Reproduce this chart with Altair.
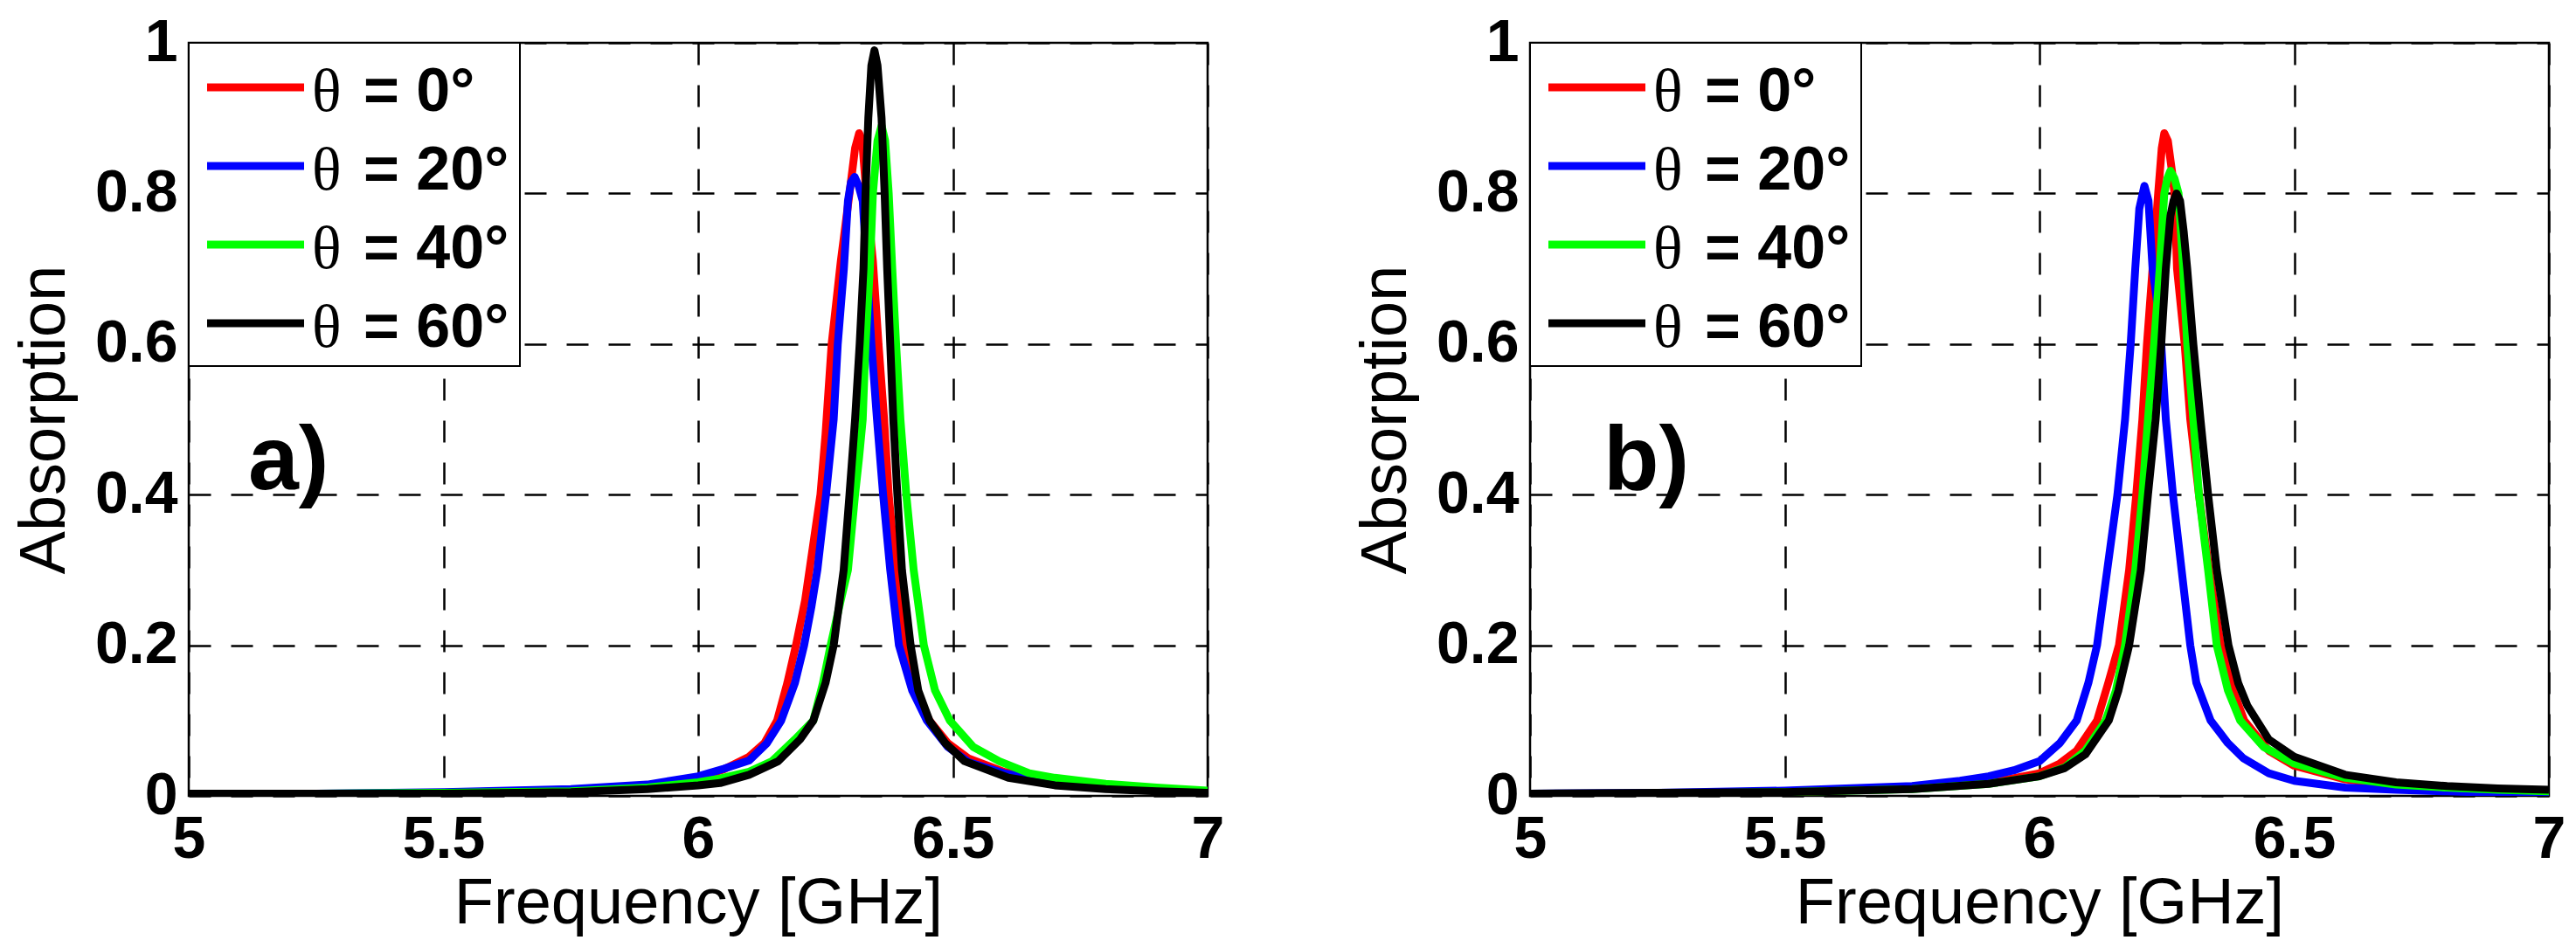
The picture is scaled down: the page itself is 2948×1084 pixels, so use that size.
import altair as alt
import pandas as pd

# ---------------- data ----------------
SERIES = ["θ = 0°", "θ = 20°", "θ = 40°", "θ = 60°"]
COLORS = ["#ff0000", "#0000ff", "#00ff00", "#000000"]
X_TICKS = [5, 5.5, 6, 6.5, 7]
Y_TICKS = [0, 0.2, 0.4, 0.6, 0.8, 1]

# panel a)
A_RED_F = [5.00, 5.25, 5.50, 5.75, 5.90, 6.00, 6.05, 6.10, 6.13, 6.155, 6.175, 6.192, 6.21, 6.225, 6.24, 6.25, 6.262, 6.28, 6.297, 6.308, 6.316, 6.322, 6.33, 6.343, 6.354, 6.365, 6.374, 6.388, 6.403, 6.425, 6.454, 6.49, 6.53, 6.60, 6.70, 6.80, 6.90, 7.00]
A_RED_A = [0.002, 0.002, 0.004, 0.008, 0.014, 0.024, 0.035, 0.052, 0.07, 0.10, 0.15, 0.20, 0.26, 0.33, 0.40, 0.48, 0.60, 0.71, 0.80, 0.86, 0.88, 0.87, 0.80, 0.71, 0.60, 0.50, 0.40, 0.30, 0.20, 0.14, 0.10, 0.07, 0.05, 0.032, 0.02, 0.013, 0.009, 0.006]

A_BLUE_F = [5.00, 5.25, 5.50, 5.75, 5.90, 6.00, 6.05, 6.10, 6.135, 6.163, 6.19, 6.208, 6.222, 6.234, 6.251, 6.266, 6.274, 6.286, 6.294, 6.300, 6.307, 6.315, 6.323, 6.331, 6.340, 6.351, 6.363, 6.377, 6.394, 6.42, 6.449, 6.49, 6.53, 6.60, 6.70, 6.80, 6.90, 7.00]
A_BLUE_A = [0.002, 0.003, 0.005, 0.009, 0.015, 0.026, 0.036, 0.047, 0.07, 0.10, 0.15, 0.20, 0.25, 0.30, 0.40, 0.50, 0.60, 0.70, 0.79, 0.815, 0.822, 0.81, 0.79, 0.70, 0.60, 0.50, 0.40, 0.30, 0.20, 0.14, 0.10, 0.065, 0.045, 0.03, 0.018, 0.011, 0.008, 0.005]

A_GREEN_F = [5.00, 5.25, 5.50, 5.75, 5.90, 6.00, 6.043, 6.10, 6.145, 6.19, 6.226, 6.245, 6.26, 6.28, 6.294, 6.308, 6.316, 6.323, 6.3285, 6.337, 6.343, 6.352, 6.360, 6.367, 6.374, 6.381, 6.3885, 6.397, 6.4085, 6.423, 6.443, 6.465, 6.494, 6.54, 6.591, 6.65, 6.70, 6.80, 6.90, 7.00]
A_GREEN_A = [0.002, 0.003, 0.004, 0.006, 0.011, 0.018, 0.023, 0.032, 0.046, 0.075, 0.10, 0.15, 0.20, 0.26, 0.30, 0.40, 0.45, 0.50, 0.60, 0.70, 0.80, 0.87, 0.89, 0.87, 0.80, 0.70, 0.60, 0.50, 0.40, 0.30, 0.20, 0.14, 0.10, 0.065, 0.046, 0.03, 0.024, 0.016, 0.011, 0.007]

A_BLACK_F = [5.00, 5.25, 5.50, 5.75, 5.90, 6.00, 6.043, 6.10, 6.157, 6.20, 6.226, 6.25, 6.266, 6.2856, 6.297, 6.308, 6.317, 6.3245, 6.3285, 6.334, 6.340, 6.346, 6.352, 6.360, 6.366, 6.371, 6.377, 6.383, 6.391, 6.400, 6.417, 6.432, 6.454, 6.485, 6.523, 6.609, 6.70, 6.80, 6.90, 7.00]
A_BLACK_A = [0.003, 0.003, 0.003, 0.005, 0.009, 0.014, 0.017, 0.028, 0.046, 0.075, 0.10, 0.15, 0.20, 0.30, 0.40, 0.50, 0.60, 0.70, 0.80, 0.90, 0.97, 0.99, 0.97, 0.90, 0.80, 0.70, 0.60, 0.50, 0.40, 0.30, 0.20, 0.14, 0.10, 0.07, 0.046, 0.024, 0.014, 0.009, 0.006, 0.004]

# panel b)
B_RED_F = [5.00, 5.25, 5.50, 5.75, 5.90, 6.00, 6.04, 6.073, 6.113, 6.135, 6.156, 6.176, 6.19, 6.202, 6.211, 6.222, 6.233, 6.240, 6.245, 6.252, 6.260, 6.265, 6.270, 6.285, 6.296, 6.313, 6.333, 6.356, 6.38, 6.402, 6.45, 6.50, 6.60, 6.70, 6.80, 6.90, 7.00]
B_RED_A = [0.002, 0.003, 0.005, 0.01, 0.017, 0.03, 0.043, 0.06, 0.10, 0.15, 0.20, 0.30, 0.40, 0.50, 0.60, 0.70, 0.80, 0.86, 0.88, 0.87, 0.83, 0.80, 0.70, 0.60, 0.50, 0.40, 0.30, 0.20, 0.14, 0.10, 0.06, 0.04, 0.022, 0.014, 0.01, 0.007, 0.005]

B_BLUE_F = [5.00, 5.25, 5.50, 5.75, 5.844, 5.90, 5.95, 6.00, 6.04, 6.073, 6.096, 6.113, 6.133, 6.153, 6.168, 6.179, 6.188, 6.196, 6.206, 6.214, 6.222, 6.232, 6.239, 6.248, 6.262, 6.279, 6.296, 6.308, 6.336, 6.37, 6.40, 6.45, 6.50, 6.60, 6.70, 6.80, 6.90, 7.00]
B_BLUE_A = [0.003, 0.004, 0.007, 0.013, 0.02, 0.026, 0.034, 0.046, 0.07, 0.10, 0.15, 0.20, 0.30, 0.40, 0.50, 0.60, 0.70, 0.78, 0.81, 0.79, 0.70, 0.65, 0.60, 0.50, 0.40, 0.30, 0.20, 0.15, 0.10, 0.07, 0.05, 0.03, 0.02, 0.011, 0.008, 0.006, 0.004, 0.003]

B_GREEN_F = [5.00, 5.25, 5.50, 5.75, 5.90, 6.00, 6.05, 6.09, 6.13, 6.15, 6.168, 6.188, 6.202, 6.213, 6.225, 6.236, 6.245, 6.251, 6.257, 6.265, 6.273, 6.282, 6.29, 6.302, 6.313, 6.331, 6.348, 6.37, 6.394, 6.44, 6.50, 6.60, 6.70, 6.80, 6.90, 7.00]
B_GREEN_A = [0.002, 0.003, 0.005, 0.009, 0.016, 0.026, 0.038, 0.06, 0.10, 0.14, 0.20, 0.30, 0.40, 0.50, 0.60, 0.70, 0.80, 0.82, 0.83, 0.82, 0.80, 0.70, 0.60, 0.50, 0.40, 0.30, 0.20, 0.14, 0.10, 0.065, 0.043, 0.024, 0.015, 0.011, 0.008, 0.006]

B_BLACK_F = [5.00, 5.25, 5.50, 5.75, 5.90, 6.00, 6.05, 6.09, 6.136, 6.155, 6.176, 6.199, 6.213, 6.228, 6.239, 6.248, 6.257, 6.263, 6.269, 6.276, 6.283, 6.29, 6.302, 6.316, 6.331, 6.348, 6.371, 6.39, 6.408, 6.45, 6.50, 6.60, 6.70, 6.80, 6.90, 7.00]
B_BLACK_A = [0.003, 0.004, 0.005, 0.009, 0.016, 0.026, 0.037, 0.055, 0.10, 0.14, 0.20, 0.30, 0.40, 0.50, 0.60, 0.70, 0.77, 0.79, 0.80, 0.79, 0.75, 0.70, 0.60, 0.50, 0.40, 0.30, 0.20, 0.15, 0.12, 0.075, 0.052, 0.028, 0.018, 0.013, 0.01, 0.008]

PANEL_A = [(A_RED_F, A_RED_A), (A_BLUE_F, A_BLUE_A), (A_GREEN_F, A_GREEN_A), (A_BLACK_F, A_BLACK_A)]
PANEL_B = [(B_RED_F, B_RED_A), (B_BLUE_F, B_BLUE_A), (B_GREEN_F, B_GREEN_A), (B_BLACK_F, B_BLACK_A)]

W, H = 1166, 862
SANS = "Liberation Sans"
SERIF = "Liberation Serif"

xenc = alt.X("f:Q", scale=alt.Scale(domain=[5, 7], nice=False, zero=False),
             axis=alt.Axis(title="Frequency [GHz]", values=X_TICKS, format="~g"))
yenc = alt.Y("a:Q", scale=alt.Scale(domain=[0, 1], nice=False),
             axis=alt.Axis(title="Absorption", values=Y_TICKS, format="~g"))

ONE = alt.Data(values=[{}])


def panel(series, tag, tag_x):
    layers = []
    for (fs, vs), name, col in zip(series, SERIES, COLORS):
        df = pd.DataFrame({"f": fs, "a": vs})
        layers.append(
            alt.Chart(df).mark_line(color=col, strokeWidth=9, clip=True,
                                    strokeJoin="round")
            .encode(x=xenc, y=yenc)
        )
    # legend box
    layers.append(
        alt.Chart(ONE).mark_rect(fill="white", stroke="black", strokeWidth=2)
        .encode(x=alt.value(0), x2=alt.value(379), y=alt.value(0), y2=alt.value(370))
    )
    for i, (name, col) in enumerate(zip(SERIES, COLORS)):
        cy = 51 + 90 * i
        layers.append(
            alt.Chart(ONE).mark_rule(color=col, strokeWidth=9)
            .encode(x=alt.value(21), x2=alt.value(132), y=alt.value(cy))
        )
        layers.append(
            alt.Chart(ONE).mark_text(text="θ", font=SERIF, fontSize=70,
                                     align="left", baseline="alphabetic", color="black")
            .encode(x=alt.value(141), y=alt.value(cy + 27))
        )
        layers.append(
            alt.Chart(ONE).mark_text(text=name.split("θ ")[1], font=SANS, fontSize=70,
                                     fontWeight="bold", align="left",
                                     baseline="alphabetic", color="black")
            .encode(x=alt.value(200), y=alt.value(cy + 27))
        )
    layers.append(
        alt.Chart(ONE).mark_text(text=tag, font=SANS, fontSize=104, fontWeight="bold",
                                 align="left", baseline="alphabetic", color="black")
        .encode(x=alt.value(tag_x), y=alt.value(511))
    )
    return alt.layer(*layers).properties(width=W, height=H)


left = panel(PANEL_A, "a)", 68)
right = panel(PANEL_B, "b)", 84)

chart = (
    alt.hconcat(left, right, spacing=369, bounds="flush")
    .properties(padding={"left": 5, "top": 5, "right": 0, "bottom": 0},
                background="white")
    .configure_view(stroke="black", strokeWidth=2.5)
    .configure_axis(
        domain=False, ticks=False, grid=True, gridColor="black",
        gridDash=[25, 23], gridWidth=2.5, gridOpacity=1,
        labelFont=SANS, labelFontSize=68, labelFontWeight="bold", labelColor="black",
        labelFlush=False, labelOverlap=False,
        titleFont=SANS, titleFontSize=74, titleFontWeight="normal", titleColor="black",
    )
    .configure_axisX(labelPadding=16, titlePadding=3)
    .configure_axisY(labelPadding=13, titlePadding=19)
)

chart.save("out.html", embed_options={"renderer": "svg", "actions": False})
